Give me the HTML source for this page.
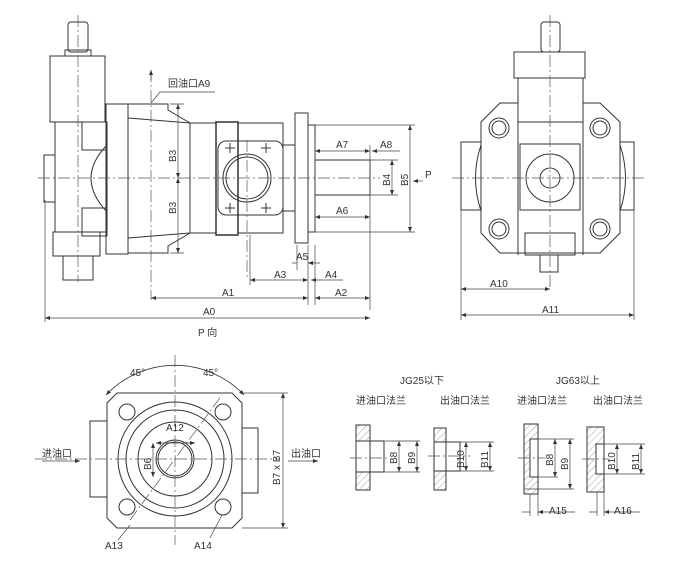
<!DOCTYPE html>
<html><head><meta charset="utf-8"><style>
html,body{margin:0;padding:0;background:#fff;}
svg{display:block;}
text{font-family:"Liberation Sans","Noto Sans CJK SC",sans-serif;fill:#333;font-size:10px;}
</style></head><body>
<svg width="698" height="571" viewBox="0 0 698 571" xmlns="http://www.w3.org/2000/svg">
<defs>
<pattern id="h" width="5" height="5" patternUnits="userSpaceOnUse" patternTransform="rotate(45)"><line x1="0" y1="0" x2="0" y2="5" stroke="#777" stroke-width="0.7"/></pattern>
<marker id="a" markerWidth="6" markerHeight="6" refX="5" refY="3" orient="auto-start-reverse" markerUnits="userSpaceOnUse"><path d="M0,1 L5,3 L0,5 z" fill="#333"/></marker>
</defs>
<rect width="698" height="571" fill="#fff"/>
<g fill="none" stroke="#333" stroke-width="1">
<!-- SIDE VIEW -->
<rect x="68" y="22" width="20" height="30" rx="3"/>
<rect x="65" y="50" width="26" height="6"/>
<rect x="50" y="56" width="55" height="66"/>
<rect x="55" y="122" width="52" height="110"/>
<rect x="44" y="155" width="11" height="47"/>
<rect x="53" y="232" width="47" height="24"/>
<rect x="63" y="256" width="30" height="24"/>
<rect x="82" y="122" width="25" height="28"/><rect x="82" y="208" width="25" height="28"/>
<path d="M107,145 Q75,178 107,212"/>
<rect x="106" y="104" width="22" height="150"/>
<path d="M128,104 H168 V110 L190,123 V233 L168,246 V253 H128"/>
<path d="M128,118 L190,123 M128,238 L190,233 M128,104 V253"/>
<rect x="190" y="123" width="26" height="110"/>
<rect x="216" y="122" width="22" height="113" stroke-width="1.5"/>
<rect x="238" y="123" width="45" height="110"/>
<rect x="218" y="141" width="65" height="74" rx="8"/>
<circle cx="247" cy="178" r="24"/><circle cx="247" cy="178" r="21"/>
<path d="M225,148 h10 M230,143 v10 M261,148 h10 M266,143 v10 M225,208 h10 M230,203 v10 M261,208 h10 M266,203 v10"/>
<rect x="283" y="145" width="12" height="66"/>
<rect x="295" y="113" width="13" height="130"/>
<rect x="308" y="125" width="7" height="107"/>
<rect x="315" y="160" width="55" height="35"/>
<!-- FRONT VIEW -->
<rect x="541" y="22" width="19" height="30" rx="3"/>
<rect x="514" y="52" width="71" height="26"/>
<rect x="518" y="78" width="65" height="44"/>
<path d="M518,103 H500 L481,122 V233 L500,253 H600 L620,233 V122 L600,103 H583"/>
<rect x="461" y="142" width="20" height="68"/>
<rect x="620" y="142" width="14" height="68"/>
<rect x="520" y="144" width="60" height="66"/>
<circle cx="550" cy="178" r="24"/><circle cx="550" cy="178" r="10"/>
<path d="M481,145 Q470,178 481,211 M620,145 Q631,178 620,211"/>
<path d="M518,122 V255 M583,122 V255"/>
<circle cx="499" cy="128" r="10"/><circle cx="499" cy="128" r="7"/>
<circle cx="600" cy="128" r="10"/><circle cx="600" cy="128" r="7"/>
<circle cx="499" cy="229" r="10"/><circle cx="499" cy="229" r="7"/>
<circle cx="600" cy="229" r="10"/><circle cx="600" cy="229" r="7"/>
<rect x="525" y="233" width="50" height="22"/>
<rect x="540" y="255" width="18" height="17"/>
<!-- P VIEW -->
<path d="M117,393 H232 L242,403 V518 L232,528 H117 L107,518 V403 Z"/>
<rect x="90" y="421" width="17" height="76"/>
<rect x="242" y="428" width="16" height="65"/>
<circle cx="175" cy="459" r="57"/><circle cx="175" cy="459" r="49"/><circle cx="175" cy="459" r="37"/><circle cx="175" cy="459" r="19"/><circle cx="175" cy="459" r="17"/>
<circle cx="127" cy="412" r="8"/><circle cx="223" cy="412" r="8"/><circle cx="127" cy="507" r="8"/><circle cx="223" cy="507" r="8"/>
<path d="M106,395 A95,95 0 0 1 244,395" stroke-width="0.8" marker-start="url(#a)" marker-end="url(#a)"/>
<!-- flanges -->
<rect x="356" y="425" width="14" height="65" fill="url(#h)"/>
<rect x="370" y="441" width="14" height="31" fill="#fff"/><rect x="356" y="441" width="14" height="31" fill="#fff"/>
<rect x="434" y="428" width="12" height="62" fill="url(#h)"/>
<rect x="446" y="442" width="14" height="29" fill="#fff"/><rect x="434" y="442" width="12" height="29" fill="#fff"/>
<rect x="524" y="424" width="14" height="70" fill="url(#h)"/>
<rect x="530" y="439" width="8" height="38" fill="#fff"/>
<rect x="587" y="427" width="17" height="65" fill="url(#h)"/>
<rect x="596" y="444" width="8" height="30" fill="#fff"/>
</g>
<!-- centerlines -->
<g stroke="#555" stroke-width="0.7" stroke-dasharray="12,3,2,3" fill="none">
<path d="M38,178 H380 M78,15 V282 M151,70 V300 M247,140 V280"/>
<path d="M452,178 H645 M550,15 V290"/>
<path d="M35,459 H280 M175,355 V545 M130,520 L222,395"/>
<path d="M350,458 H390 M428,456 H470 M518,458 H545 M582,459 H610"/>
</g>
<!-- dimension lines -->
<g stroke="#444" stroke-width="0.7" fill="none">
<path d="M178,104 V178" marker-start="url(#a)" marker-end="url(#a)"/>
<path d="M178,178 V253" marker-start="url(#a)" marker-end="url(#a)"/>
<path d="M410,125 V232" marker-start="url(#a)" marker-end="url(#a)"/>
<path d="M392,160 V195" marker-start="url(#a)" marker-end="url(#a)"/>
<path d="M315,151 H370" marker-start="url(#a)" marker-end="url(#a)"/>
<path d="M400,151 H372" marker-end="url(#a)"/>
<path d="M315,217 H370" marker-start="url(#a)" marker-end="url(#a)"/>
<path d="M292,263 H297 M320,263 H308" marker-end="url(#a)"/>
<path d="M250,280 H308" marker-start="url(#a)" marker-end="url(#a)"/>
<path d="M343,280 H311" marker-end="url(#a)"/>
<path d="M151,298 H308" marker-start="url(#a)" marker-end="url(#a)"/>
<path d="M315,298 H370" marker-start="url(#a)" marker-end="url(#a)"/>
<path d="M45,318 H370" marker-start="url(#a)" marker-end="url(#a)"/>
<path d="M151,80 V70" marker-end="url(#a)"/>
<path d="M151,103 L160,92 H215"/>
<path d="M423,181 H413" marker-end="url(#a)"/>
<path d="M315,140 V225 M370,145 V310 M308,245 V305 M315,245 V305 M297,245 V270 M250,235 V285 M45,200 V322 M170,104 H184 M170,253 H184 M315,125 H415 M315,232 H415 M370,160 H398 M370,195 H398"/>
<path d="M461,289 H550" marker-start="url(#a)" marker-end="url(#a)"/>
<path d="M461,315 H634" marker-start="url(#a)" marker-end="url(#a)"/>
<path d="M461,210 V320 M634,210 V320"/>
<path d="M283,393 V528" marker-start="url(#a)" marker-end="url(#a)"/>
<path d="M242,393 H288 M242,528 H288"/>
<path d="M156,443 H195" marker-start="url(#a)" marker-end="url(#a)"/>
<path d="M153,443 V477" marker-start="url(#a)" marker-end="url(#a)"/>
<path d="M42,461 H80" marker-end="url(#a)"/>
<path d="M288,461 H318" marker-end="url(#a)"/>
<path d="M118,540 L130,525 M210,538 L222,515"/>
<path d="M399,441 V472" marker-start="url(#a)" marker-end="url(#a)"/>
<path d="M417,441 V472" marker-start="url(#a)" marker-end="url(#a)"/>
<path d="M466,442 V471" marker-start="url(#a)" marker-end="url(#a)"/>
<path d="M490,442 V471" marker-start="url(#a)" marker-end="url(#a)"/>
<path d="M555,439 V477" marker-start="url(#a)" marker-end="url(#a)"/>
<path d="M570,439 V489" marker-start="url(#a)" marker-end="url(#a)"/>
<path d="M617,444 V474" marker-start="url(#a)" marker-end="url(#a)"/>
<path d="M641,444 V474" marker-start="url(#a)" marker-end="url(#a)"/>
<path d="M384,441 H420 M384,472 H420 M460,442 H494 M460,471 H494 M538,439 H574 M538,477 H558 M524,489 H574 M604,444 H645 M604,474 H645"/>
<path d="M530,494 V516 M538,494 V516 M597,492 V516 M604,492 V516"/>
<path d="M522,512 H530 M546,512 H538" marker-end="url(#a)"/>
<path d="M589,512 H597 M612,512 H604" marker-end="url(#a)"/>
<path d="M546,512 H575 M612,512 H640"/>
</g>
<!-- text -->
<text x="168" y="87">回油口A9</text>
<text x="336" y="148">A7</text><text x="380" y="148">A8</text>
<text x="336" y="214">A6</text>
<text x="296" y="260" font-size="9">A5</text>
<text x="274" y="278">A3</text><text x="325" y="278">A4</text>
<text x="222" y="296">A1</text><text x="335" y="296">A2</text>
<text x="203" y="315">A0</text>
<text x="198" y="336">P 向</text>
<text x="425" y="178" font-size="11">P</text>
<text x="490" y="287">A10</text><text x="542" y="313">A11</text>
<text x="130" y="376">45°</text><text x="203" y="376">45°</text>
<text x="166" y="431">A12</text>
<text x="105" y="549">A13</text><text x="194" y="549">A14</text>
<text x="42" y="457">进油口</text><text x="291" y="457">出油口</text>
<text x="400" y="384">JG25以下</text><text x="556" y="384">JG63以上</text>
<text x="356" y="404">进油口法兰</text><text x="440" y="404">出油口法兰</text>
<text x="517" y="404">进油口法兰</text><text x="593" y="404">出油口法兰</text>
<text x="549" y="514">A15</text><text x="614" y="514">A16</text>
<g font-size="10">
<text transform="translate(176,162) rotate(-90)">B3</text>
<text transform="translate(176,214) rotate(-90)">B3</text>
<text transform="translate(390,186) rotate(-90)">B4</text>
<text transform="translate(408,186) rotate(-90)">B5</text>
<text transform="translate(151,470) rotate(-90)">B6</text>
<text transform="translate(280,485) rotate(-90)">B7 x B7</text>
<text transform="translate(397,464) rotate(-90)">B8</text>
<text transform="translate(415,464) rotate(-90)">B9</text>
<text transform="translate(464,468) rotate(-90)">B10</text>
<text transform="translate(488,468) rotate(-90)">B11</text>
<text transform="translate(553,466) rotate(-90)">B8</text>
<text transform="translate(568,470) rotate(-90)">B9</text>
<text transform="translate(615,470) rotate(-90)">B10</text>
<text transform="translate(639,470) rotate(-90)">B11</text>
</g>
</svg>
</body></html>
